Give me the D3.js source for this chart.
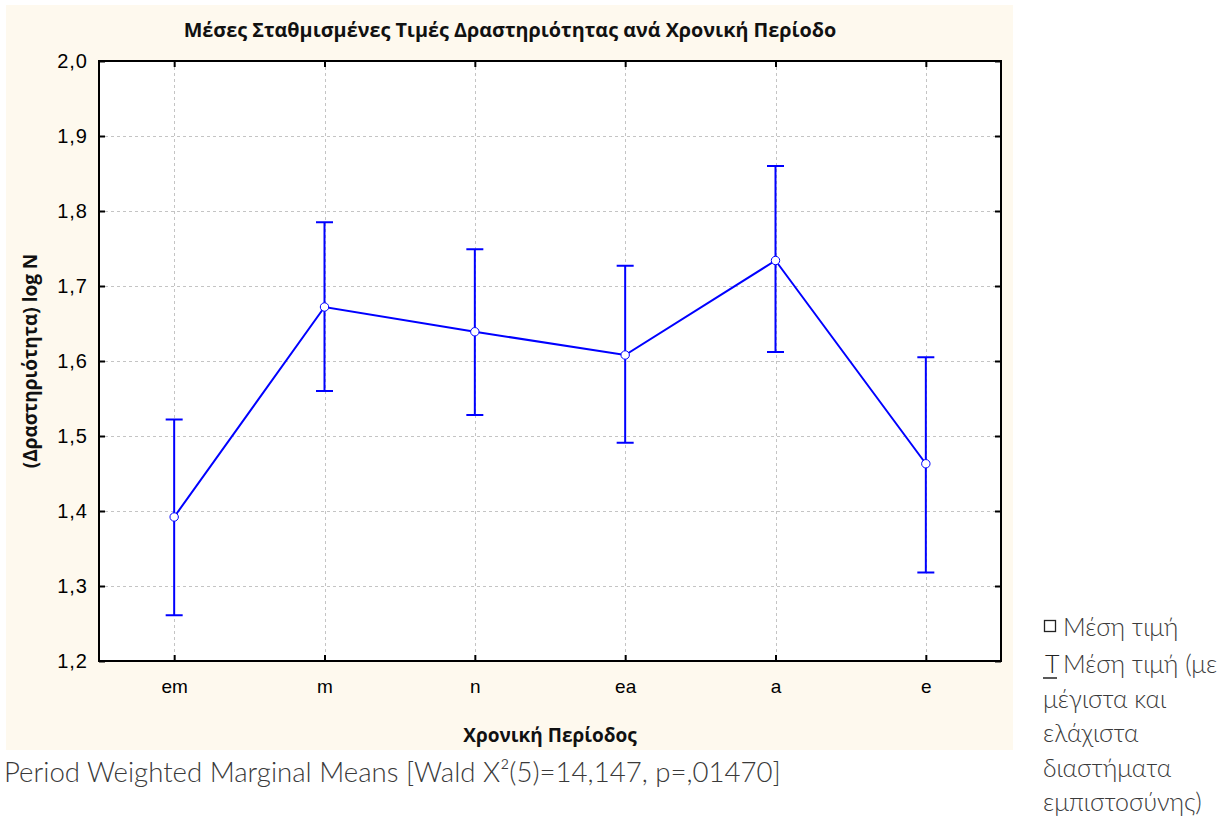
<!DOCTYPE html>
<html>
<head>
<meta charset="utf-8">
<script src="https://cdn.jsdelivr.net/npm/d3@7/dist/d3.min.js"></script>
<style>
  html, body { margin: 0; padding: 0; background: #ffffff; }
  svg { display: block; }
</style>
</head>
<body>
<svg id="chart" width="1229" height="820"></svg>
<script>
// Periods and their weighted marginal means with confidence limits
const periods = ["em", "m", "n", "ea", "a", "e"];
const means   = [1.392, 1.672, 1.639, 1.608, 1.734, 1.463];
const upper   = [1.522, 1.785, 1.749, 1.727, 1.860, 1.605];
const lower   = [1.261, 1.560, 1.528, 1.491, 1.612, 1.318];
const yTicks  = [1.2, 1.3, 1.4, 1.5, 1.6, 1.7, 1.8, 1.9, 2.0];

const titleText   = "Μέσες Σταθμισμένες Τιμές Δραστηριότητας ανά Χρονική Περίοδο";
const xTitleText  = "Χρονική Περίοδος";
const yTitleText  = "(Δραστηριότητα) log N";
const captionText = "Period Weighted Marginal Means [Wald X²(5)=14,147, p=,01470]";
const legendLines = ["Μέση τιμή (με", "μέγιστα και", "ελάχιστα", "διαστήματα", "εμπιστοσύνης)"];

const svg = d3.select("#chart");
const plot = { left: 99, right: 1001, top: 61, bottom: 661 };
const blue = "#0000ff";
const tickFont = "'Liberation Sans', Arial, sans-serif";
const boldFont = "'Open Sans', 'Noto Sans', sans-serif";
const lightFont = "Lato, 'Open Sans', sans-serif";

// Panel background
svg.append("rect").attr("x", 6).attr("y", 5).attr("width", 1007).attr("height", 745)
  .attr("fill", "#fef9ee");
svg.append("rect").attr("x", plot.left).attr("y", plot.top)
  .attr("width", plot.right - plot.left).attr("height", plot.bottom - plot.top)
  .attr("fill", "#ffffff");

const x = d3.scalePoint().domain(periods).range([plot.left, plot.right]).padding(0.5);
const y = d3.scaleLinear().domain([1.2, 2.0]).range([plot.bottom, plot.top]);
const fmt = v => d3.format(".1f")(v).replace(".", ",");

// Dashed grid
const grid = svg.append("g").attr("stroke", "#c4c4c4").attr("stroke-width", 1)
  .attr("stroke-dasharray", "3,3");
grid.selectAll("line.h").data(yTicks.slice(1, -1)).join("line")
  .attr("x1", plot.left).attr("x2", plot.right)
  .attr("y1", d => Math.round(y(d)) + 0.5).attr("y2", d => Math.round(y(d)) + 0.5);
grid.selectAll("line.v").data(periods).join("line")
  .attr("y1", plot.top).attr("y2", plot.bottom)
  .attr("x1", d => Math.round(x(d)) + 0.5).attr("x2", d => Math.round(x(d)) + 0.5);

// Axes with inward ticks on all four sides
const axisStyle = g => {
  g.select(".domain").remove();
  g.selectAll(".tick line").attr("stroke", "#000").attr("stroke-width", 2);
};
svg.append("g").attr("transform", `translate(${plot.left},0)`)
  .call(d3.axisLeft(y).tickValues(yTicks).tickFormat(fmt).tickSizeInner(-6).tickPadding(11))
  .call(axisStyle)
  .call(g => g.selectAll("text").attr("font-family", tickFont).attr("font-size", 20)
    .attr("letter-spacing", 1).attr("fill", "#000"));
svg.append("g").attr("transform", `translate(${plot.right},0)`)
  .call(d3.axisRight(y).tickValues(yTicks).tickFormat("").tickSizeInner(-6))
  .call(axisStyle);
svg.append("g").attr("transform", `translate(0,${plot.bottom})`)
  .call(d3.axisBottom(x).tickSizeInner(-6).tickPadding(19))
  .call(axisStyle)
  .call(g => g.selectAll("text").attr("font-family", tickFont).attr("font-size", 19).attr("fill", "#000"));
svg.append("g").attr("transform", `translate(0,${plot.top})`)
  .call(d3.axisTop(x).tickFormat("").tickSizeInner(-6))
  .call(axisStyle);

// Frame
svg.append("rect").attr("x", plot.left).attr("y", plot.top)
  .attr("width", plot.right - plot.left).attr("height", plot.bottom - plot.top)
  .attr("fill", "none").attr("stroke", "#000").attr("stroke-width", 2);

// Error bars
const bars = svg.append("g").attr("stroke", blue).attr("stroke-width", 2);
periods.forEach((p, i) => {
  const cx = x(p);
  bars.append("line").attr("x1", cx).attr("x2", cx).attr("y1", y(upper[i])).attr("y2", y(lower[i]));
  bars.append("line").attr("x1", cx - 8.5).attr("x2", cx + 8.5).attr("y1", y(upper[i])).attr("y2", y(upper[i]));
  bars.append("line").attr("x1", cx - 8.5).attr("x2", cx + 8.5).attr("y1", y(lower[i])).attr("y2", y(lower[i]));
});

// Mean line and markers
const line = d3.line().x((d, i) => x(periods[i])).y(d => y(d));
svg.append("path").datum(means).attr("d", line)
  .attr("fill", "none").attr("stroke", blue).attr("stroke-width", 2);
svg.append("g").selectAll("circle").data(means).join("circle")
  .attr("cx", (d, i) => x(periods[i])).attr("cy", d => y(d)).attr("r", 4.2)
  .attr("fill", "#fff").attr("stroke", blue).attr("stroke-width", 1);

// Titles
svg.append("text").attr("x", 510).attr("y", 37).attr("text-anchor", "middle")
  .attr("font-family", boldFont).attr("font-weight", 700).attr("font-size", 19.8)
  .attr("fill", "#111").text(titleText);
svg.append("text").attr("x", (plot.left + plot.right) / 2).attr("y", 742).attr("text-anchor", "middle")
  .attr("font-family", boldFont).attr("font-weight", 700).attr("font-size", 19)
  .attr("fill", "#111").text(xTitleText);
svg.append("text").attr("transform", `translate(37,${(plot.top + plot.bottom) / 2}) rotate(-90)`)
  .attr("text-anchor", "middle")
  .attr("font-family", boldFont).attr("font-weight", 700).attr("font-size", 19)
  .attr("fill", "#111").text(yTitleText);

// Caption
svg.append("text").attr("x", 4).attr("y", 782)
  .attr("font-family", lightFont).attr("font-weight", 300).attr("font-size", 27.6)
  .attr("fill", "#3a3a3a").text(captionText);

// Legend
const lg = svg.append("g").attr("font-family", lightFont).attr("font-weight", 300)
  .attr("font-size", 25).attr("fill", "#3a3a3a");
lg.append("rect").attr("x", 1044.5).attr("y", 620.5).attr("width", 11).attr("height", 11)
  .attr("fill", "#fff").attr("stroke", "#222").attr("stroke-width", 1.3);
lg.append("text").attr("x", 1063).attr("y", 636).text("Μέση τιμή");
lg.append("text").attr("x", 1045).attr("y", 673).attr("fill", "#222").text("T");
lg.append("line").attr("x1", 1043).attr("x2", 1057).attr("y1", 678).attr("y2", 678)
  .attr("stroke", "#222").attr("stroke-width", 1.5);
legendLines.forEach((t, i) => {
  lg.append("text").attr("x", i === 0 ? 1063 : 1043).attr("y", 673 + i * 34.5).text(t);
});
</script>
</body>
</html>
